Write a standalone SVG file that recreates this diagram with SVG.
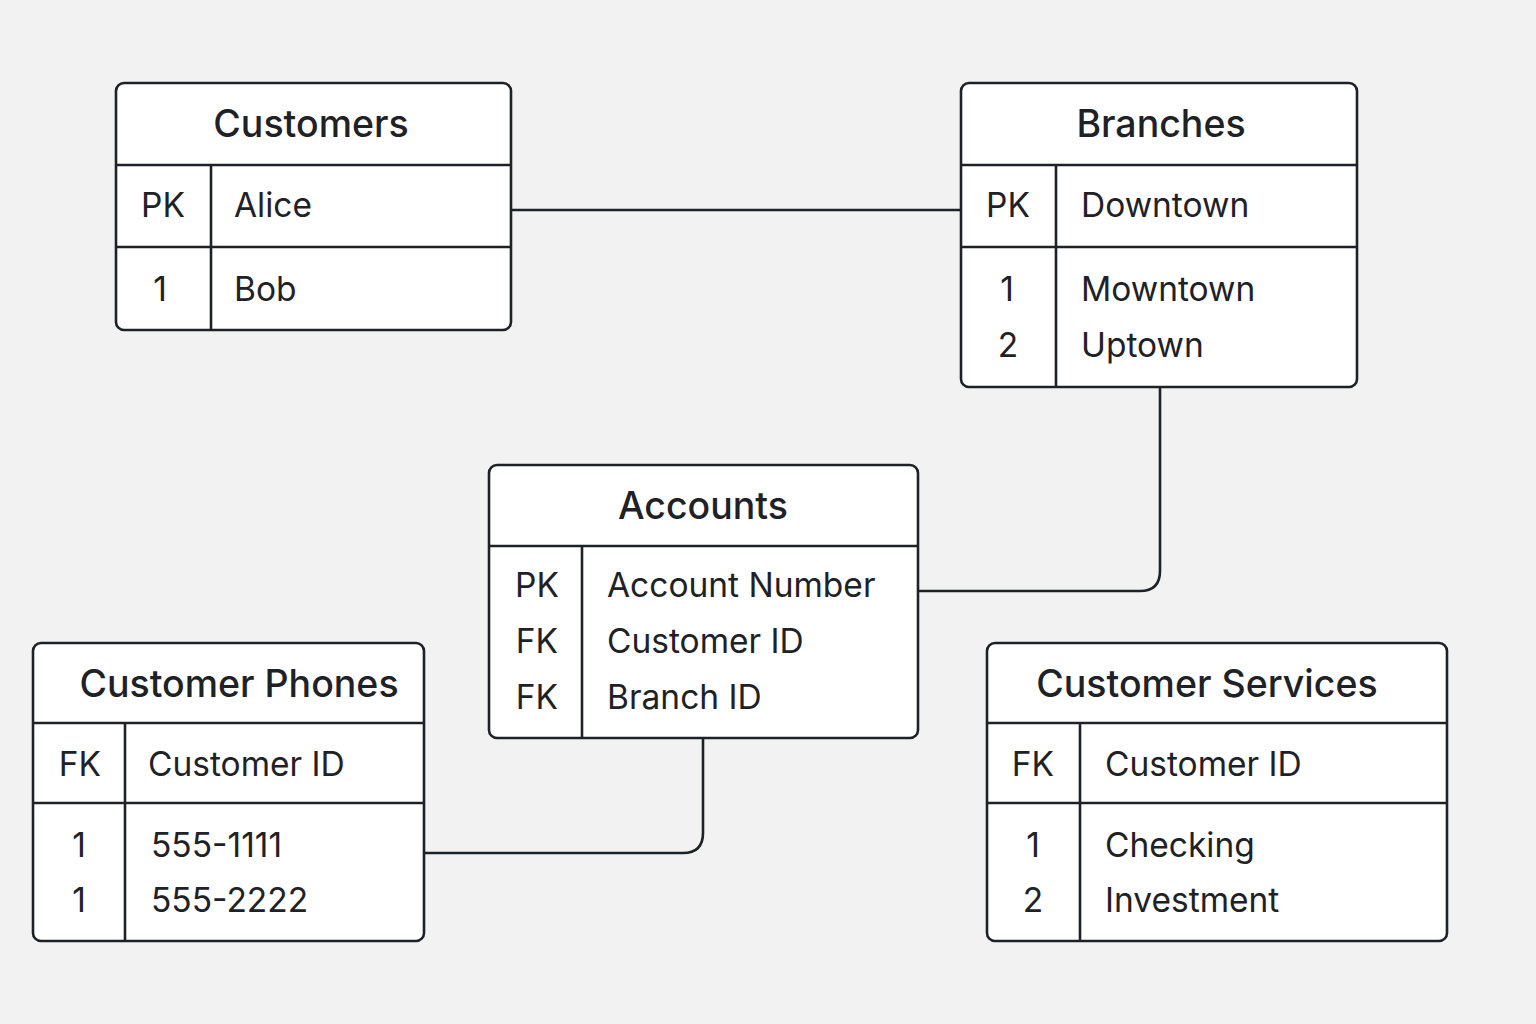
<svg xmlns="http://www.w3.org/2000/svg" width="1536" height="1024" viewBox="0 0 1536 1024">
<style>
.bg{fill:#f2f2f2}
.box{fill:#ffffff;stroke:#1e2226;stroke-width:2.6}
.ln{stroke:#1e2226;stroke-width:2.6;fill:none}
.t{font-family:Inter,"Noto Sans",sans-serif;font-size:37.5px;font-weight:500;fill:#1e2226;text-anchor:middle}
.k{font-family:Inter,"Noto Sans",sans-serif;font-size:33.5px;fill:#1e2226;text-anchor:middle}
.v{font-family:Inter,"Noto Sans",sans-serif;font-size:33.5px;fill:#1e2226}
</style>
<rect class="bg" x="0" y="0" width="1536" height="1024"/>
<g id="connectors">
<path class="ln" d="M511 210 H961"/>
<path class="ln" d="M1160 387 V571 Q1160 591 1140 591 H918"/>
<path class="ln" d="M703 738 V833 Q703 853 683 853 H424"/>
</g>
<g id="customers">
<rect class="box" x="116" y="83" width="395" height="247" rx="8"/>
<path class="ln" d="M116 165 H511 M116 247 H511 M211 165 V330"/>
<text class="t" x="311" y="137">Customers</text>
<text class="k" x="163" y="217">PK</text>
<text class="v" x="234" y="217">Alice</text>
<text class="k" x="160" y="301">1</text>
<text class="v" x="234" y="301">Bob</text>
</g>
<g id="branches">
<rect class="box" x="961" y="83" width="396" height="304" rx="8"/>
<path class="ln" d="M961 165 H1357 M961 247 H1357 M1056 165 V387"/>
<text class="t" x="1161" y="137">Branches</text>
<text class="k" x="1008" y="217">PK</text>
<text class="v" x="1081" y="217">Downtown</text>
<text class="k" x="1007" y="301">1</text>
<text class="v" x="1081" y="301">Mowntown</text>
<text class="k" x="1008" y="357">2</text>
<text class="v" x="1081" y="357">Uptown</text>
</g>
<g id="accounts">
<rect class="box" x="489" y="465" width="429" height="273" rx="8"/>
<path class="ln" d="M489 546 H918 M582 546 V738"/>
<text class="t" x="703" y="519">Accounts</text>
<text class="k" x="537" y="597">PK</text>
<text class="v" x="607" y="597">Account Number</text>
<text class="k" x="537" y="653">FK</text>
<text class="v" x="607" y="653">Customer ID</text>
<text class="k" x="537" y="709">FK</text>
<text class="v" x="607" y="709">Branch ID</text>
</g>
<g id="customer-phones">
<rect class="box" x="33" y="643" width="391" height="298" rx="8"/>
<path class="ln" d="M33 723 H424 M33 803 H424 M125 723 V941"/>
<text class="t" x="239" y="697">Customer Phones</text>
<text class="k" x="80" y="776">FK</text>
<text class="v" x="148" y="776">Customer ID</text>
<text class="k" x="79" y="857">1</text>
<text class="v" x="151" y="857">555-1111</text>
<text class="k" x="79" y="912">1</text>
<text class="v" x="151" y="912">555-2222</text>
</g>
<g id="customer-services">
<rect class="box" x="987" y="643" width="460" height="298" rx="8"/>
<path class="ln" d="M987 723 H1447 M987 803 H1447 M1080 723 V941"/>
<text class="t" x="1207" y="697">Customer Services</text>
<text class="k" x="1033" y="776">FK</text>
<text class="v" x="1105" y="776">Customer ID</text>
<text class="k" x="1033" y="857">1</text>
<text class="v" x="1105" y="857">Checking</text>
<text class="k" x="1033" y="912">2</text>
<text class="v" x="1105" y="912">Investment</text>
</g>
</svg>
